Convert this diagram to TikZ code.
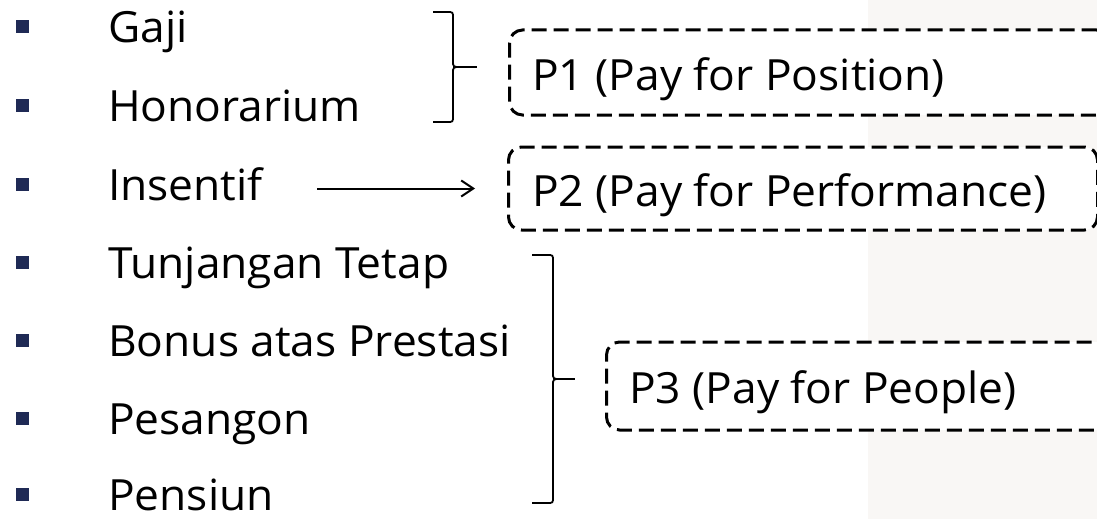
\documentclass[tikz,border=0pt]{standalone}
\usepackage{fontspec}
\setmainfont[FakeStretch=1.03]{Open Sans}
\usetikzlibrary{arrows.meta}
\definecolor{bulletblue}{RGB}{31,42,85}
\definecolor{bgbeige}{RGB}{249,247,245}
\tikzset{
  item/.style={anchor=base west, inner sep=0pt, font=\fontsize{43}{50}\selectfont},
  bul/.style={fill=bulletblue, draw=none, minimum size=13pt, inner sep=0pt},
  pbox/.style={draw=black, fill=white, line width=3pt, dash pattern=on 15pt off 7pt, rounded corners=13pt, inner sep=0pt},
  plabel/.style={anchor=base west, inner sep=0pt, font=\fontsize{43}{50}\selectfont},
  brace/.style={draw=black, line width=1.8pt},
  arr/.style={draw=black, line width=2pt, -{Straight Barb[length=12pt,width=16pt,line width=2pt]}}
}
\begin{document}
\begin{tikzpicture}[x=1pt,y=-1pt]
\useasboundingbox (0,0) rectangle (1097,519);
\clip (0,0) rectangle (1097,519);
\fill[white] (0,0) rectangle (1097,519);
\fill[bgbeige] (868,0) rectangle (1097,519);
% bullets and items
\foreach \i/\t/\yy in {1/Gaji/27, 2/Honorarium/105, 3/Insentif/184, 4/Tunjangan Tetap/262, 5/Bonus atas Prestasi/340, 6/Pesangon/418, 7/Pensiun/494}{
  \node[bul] (b\i) at (22.5,\yy) {};
  \node[item] (t\i) at (108,\yy+16) {\t};
}
% boxes
\node[pbox, minimum width=600pt, minimum height=85pt, anchor=west] (p1) at (508,72.5) {};
\node[plabel] (l1) at (532,90) {P1 (Pay for Position)};
\node[pbox, minimum width=589pt, minimum height=83pt, anchor=west] (p2) at (507,188.5) {};
\node[plabel] (l2) at (532,206) {P2 (Pay for Performance)};
\node[pbox, minimum width=520pt, minimum height=88pt, anchor=west] (p3) at (605,386) {};
\node[plabel] (l3) at (629,403) {P3 (Pay for People)};
% braces
\draw[brace] (433,12) -- (447,12) .. controls (453,12) .. (453,18) -- (453,61)
  .. controls (453,67) .. (461,67) .. controls (453,67) .. (453,73) -- (453,116)
  .. controls (453,122) .. (447,122) -- (433,122);
\coordinate (br1) at (461,67);
\draw[brace] (br1) -- (477,67);
\draw[brace] (532,255) -- (547,255) .. controls (553,255) .. (553,261) -- (553,373)
  .. controls (553,379) .. (561,379) .. controls (553,379) .. (553,385) -- (553,497)
  .. controls (553,503) .. (547,503) -- (532,503);
\coordinate (br3) at (561,379);
\draw[brace] (br3) -- (575,379);
% arrow
\coordinate (a1) at (317,188.5);
\draw[arr, shorten >=32pt] (a1) -- (p2.west);
\end{tikzpicture}
\end{document}
